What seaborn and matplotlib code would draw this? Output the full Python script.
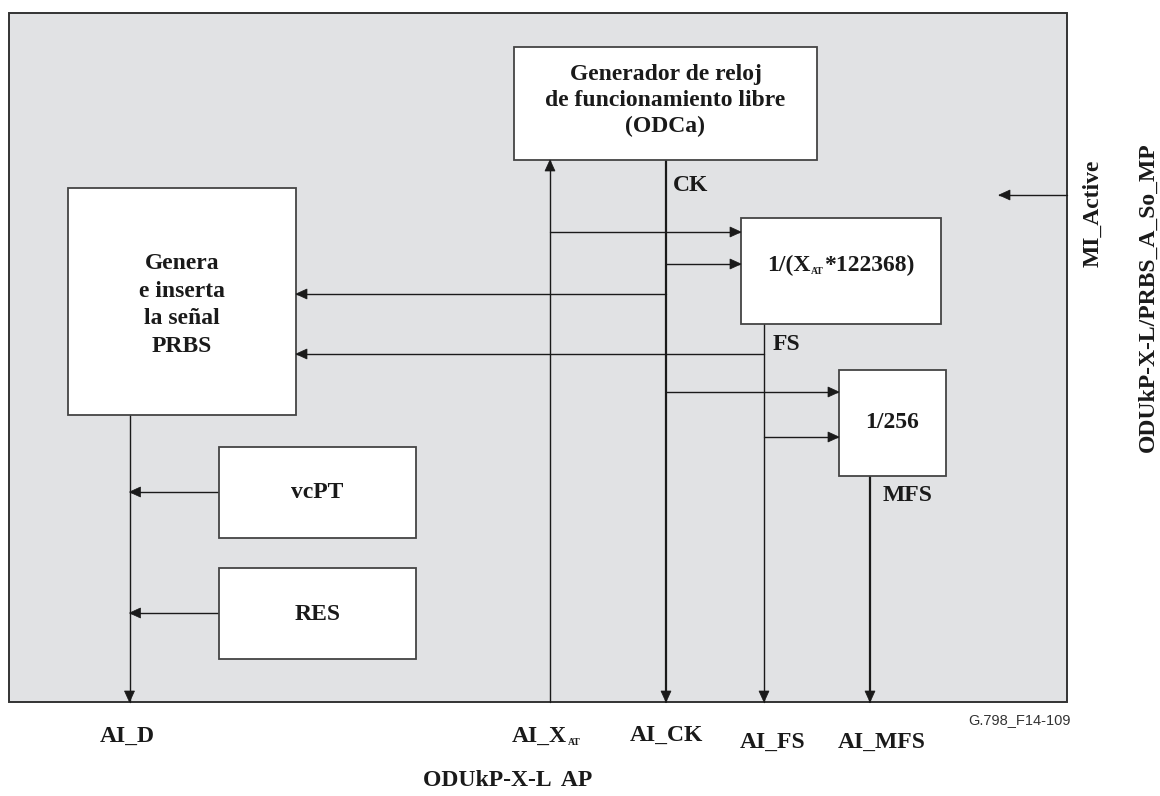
import matplotlib
matplotlib.use("Agg")
import matplotlib.pyplot as plt
from matplotlib.patches import Rectangle, Polygon
import numpy as np
import pandas as pd
import seaborn as sns

# ---- diagram content -------------------------------------------------------
block_ids = ["gen", "div", "mf", "prbs", "vcpt", "res"]
block_texts = [
    "Generador de reloj\nde funcionamiento libre\n(ODCa)",
    "",  # 1/(X_AT*122368) is drawn with a subscript below
    "1/256",
    "Genera\ne inserta\nla señal\nPRBS",
    "vcPT",
    "RES",
]
signal_names = ["CK", "FS", "MFS"]
port_names = ["AI_D", "AI_CK", "AI_FS", "AI_MFS"]
ap_name = "ODUkP-X-L  AP"
mp_names = ["MI_Active", "ODUkP-X-L/PRBS_A_So_MP"]
fig_id = "G.798_F14-109"

# ---- layout (pixel units, y grows downwards) --------------------------------
outer = (9, 13, 1067, 702)
boxes = {
    "gen": (514, 47, 817, 160),
    "div": (741, 218, 941, 324),
    "mf": (839, 370, 946, 476),
    "prbs": (68, 188, 296, 415),
    "vcpt": (219, 447, 416, 538),
    "res": (219, 568, 416, 659),
}
# text centre + line spacing per block
text_style = {
    "gen": (100.5, 1.3),
    "mf": (423, 1.2),
    "prbs": (305, 1.42),
    "vcpt": (493, 1.2),
    "res": (614, 1.2),
}
X_D, X_XAT, X_CK, X_FS, X_MFS = 129.5, 550, 666, 764, 870

# wires: (name, x0, y0, x1, y1, thick, arrow at end)
wire_defs = [
    ("xat", X_XAT, 702, X_XAT, 160, False, True),
    ("xat_div", X_XAT, 232, 741, 232, False, True),
    ("ck", X_CK, 160, X_CK, 702, True, True),
    ("ck_div", X_CK, 264, 741, 264, False, True),
    ("ck_prbs", X_CK, 294, 296, 294, False, True),
    ("ck_mf", X_CK, 392, 839, 392, False, True),
    ("fs", X_FS, 324, X_FS, 702, False, True),
    ("fs_prbs", X_FS, 354, 296, 354, False, True),
    ("fs_mf", X_FS, 437, 839, 437, False, True),
    ("mfs", X_MFS, 476, X_MFS, 702, True, True),
    ("d", X_D, 415, X_D, 702, False, True),
    ("vcpt_d", 219, 492, X_D, 492, False, True),
    ("res_d", 219, 613, X_D, 613, False, True),
    ("mi", 1067, 195, 999, 195, False, True),
]

INK = "#1a1a1a"
FILL = "#e1e2e4"
FS_MAIN = 17

sns.set_theme(style="white")
plt.rcParams["font.family"] = ["Liberation Serif", "DejaVu Serif"]

fig = plt.figure(figsize=(11.6, 7.96), dpi=100)
ax = fig.add_axes([0, 0, 1, 1])

# outer function block
ax.add_patch(Rectangle((outer[0], outer[1]), outer[2] - outer[0], outer[3] - outer[1],
                       facecolor=FILL, edgecolor="#333333", lw=1.4, zorder=0))

# wires through seaborn
rows = []
for name, x0, y0, x1, y1, thick, _ in wire_defs:
    w = "thick" if thick else "thin"
    rows.append({"wire": name, "x": x0, "y": y0, "weight": w})
    rows.append({"wire": name, "x": x1, "y": y1, "weight": w})
wires = pd.DataFrame(rows)
sns.lineplot(data=wires, x="x", y="y", units="wire", size="weight",
             sizes={"thin": 1.0, "thick": 1.6}, estimator=None, sort=False,
             color=INK, legend=False, ax=ax, zorder=2)
ax.set_xlim(0, 1160)
ax.set_ylim(796, 0)
ax.axis("off")


def arrow_head(x0, y0, x1, y1, length=11, half=5):
    d = np.array([x1 - x0, y1 - y0], dtype=float)
    d /= np.linalg.norm(d)
    p = np.array([-d[1], d[0]])
    tip = np.array([x1, y1], dtype=float)
    base = tip - d * length
    ax.add_patch(Polygon([tip, base + p * half, base - p * half], closed=True,
                         facecolor=INK, edgecolor=INK, lw=0.5, zorder=4))


for name, x0, y0, x1, y1, thick, arr in wire_defs:
    if arr:
        arrow_head(x0, y0, x1, y1)

# blocks
for bid, txt in zip(block_ids, block_texts):
    l, t, r, b = boxes[bid]
    ax.add_patch(Rectangle((l, t), r - l, b - t, facecolor="white",
                           edgecolor="#444444", lw=1.3, zorder=3))
    if txt:
        cy, ls = text_style[bid]
        ax.text((l + r) / 2, cy, txt, ha="center", va="center",
                fontsize=FS_MAIN, fontweight="bold", color=INK,
                linespacing=ls, zorder=5)

renderer = fig.canvas.get_renderer()


def chained(x, y, parts):
    # parts: (text, fontsize, baseline shift)
    for s, size, dy in parts:
        t = ax.text(x, y + dy, s, ha="left", va="baseline", fontsize=size,
                    fontweight="bold", color=INK, zorder=5)
        bb = t.get_window_extent(renderer=renderer)
        x += bb.width + 0.5


chained(767, 271, [("1/(X", FS_MAIN, 0), ("AT", 7, 3), ("*122368)", FS_MAIN, 0)])

# signal labels next to the wires
sig_pos = [(673, 191), (773, 350), (883, 501)]
for s, (x, y) in zip(signal_names, sig_pos):
    ax.text(x, y, s, ha="left", va="baseline", fontsize=FS_MAIN,
            fontweight="bold", color=INK)

# access point labels
port_pos = [(127.5, 742), (666, 741), (773, 748), (882, 748)]
for s, (x, y) in zip(port_names, port_pos):
    ax.text(x, y, s, ha="center", va="baseline", fontsize=FS_MAIN,
            fontweight="bold", color=INK)
chained(512, 742, [("AI_X", FS_MAIN, 0), ("AT", 7, 3)])

ax.text(508, 786, ap_name, ha="center", va="baseline", fontsize=FS_MAIN,
        fontweight="bold", color=INK)

# management point labels (rotated)
ax.text(1093, 213, mp_names[0], rotation=90, ha="center", va="center",
        fontsize=FS_MAIN, fontweight="bold", color=INK)
ax.text(1148, 297, mp_names[1], rotation=90, ha="center", va="center",
        fontsize=FS_MAIN, fontweight="bold", color=INK)

ax.text(1071, 724, fig_id, ha="right", va="baseline", fontsize=10.5,
        family=["Liberation Sans", "DejaVu Sans"], color="#333333")

fig.savefig("out.png", dpi=100, facecolor="white")
